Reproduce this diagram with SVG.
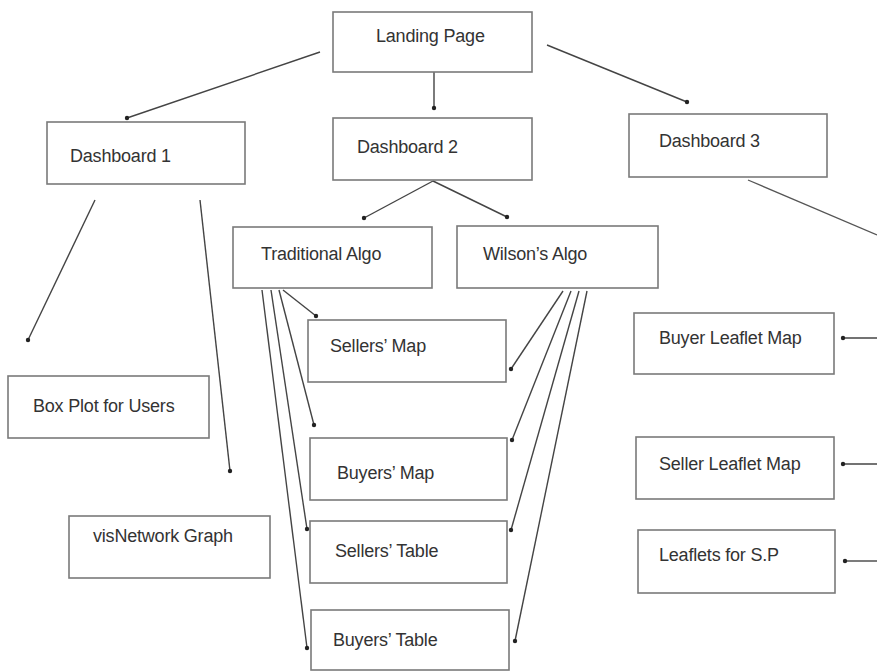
<svg xmlns="http://www.w3.org/2000/svg" width="877" height="671" viewBox="0 0 877 671">
<defs>
<marker id="dot" viewBox="0 0 6 6" refX="3" refY="3" markerWidth="6" markerHeight="6" markerUnits="userSpaceOnUse">
<circle cx="3" cy="3" r="2.2" fill="#222"/>
</marker>
<style>
.box{fill:#fff;stroke:#7a7a7a;stroke-width:1.6}
.lbl{font-family:"Liberation Sans",Arial,sans-serif;font-size:18px;fill:#333;letter-spacing:-0.2px}
.c{fill:none;stroke:#444;stroke-width:1.4;marker-end:url(#dot)}
.cn{fill:none;stroke:#555;stroke-width:1.3}
</style>
</defs>
<rect width="877" height="671" fill="#fff"/>
<g id="connectors">
<line class="c" x1="320" y1="52" x2="127" y2="118"/>
<line class="c" x1="434" y1="68" x2="434" y2="108"/>
<line class="c" x1="547" y1="45" x2="687" y2="102"/>
<line class="c" x1="433" y1="181" x2="364" y2="218"/>
<line class="c" x1="433" y1="181" x2="507" y2="217"/>
<line class="c" x1="95" y1="200" x2="28" y2="340"/>
<line class="c" x1="200" y1="200" x2="230" y2="471"/>
<line class="cn" x1="748" y1="180" x2="877" y2="235"/>
<line class="c" x1="283" y1="290" x2="316" y2="316"/>
<line class="c" x1="279" y1="290" x2="314" y2="425"/>
<line class="c" x1="271" y1="290" x2="307" y2="529"/>
<line class="c" x1="262" y1="290" x2="307" y2="648"/>
<line class="c" x1="563" y1="291" x2="511" y2="369"/>
<line class="c" x1="571" y1="291" x2="512" y2="440"/>
<line class="c" x1="579" y1="291" x2="511" y2="530"/>
<line class="c" x1="587" y1="291" x2="515" y2="641"/>
<line class="c" x1="877" y1="338" x2="843" y2="338"/>
<line class="c" x1="877" y1="464" x2="843" y2="464"/>
<line class="c" x1="877" y1="561" x2="845" y2="561"/>
</g>
<g id="landing"><rect class="box" x="333" y="12" width="199" height="60"/><text class="lbl" x="376" y="42">Landing Page</text></g>
<g id="dash1"><rect class="box" x="47" y="122" width="198" height="62"/><text class="lbl" x="70" y="162">Dashboard 1</text></g>
<g id="dash2"><rect class="box" x="333" y="118" width="199" height="62"/><text class="lbl" x="357" y="153">Dashboard 2</text></g>
<g id="dash3"><rect class="box" x="629" y="114" width="198" height="63"/><text class="lbl" x="659" y="147">Dashboard 3</text></g>
<g id="trad"><rect class="box" x="233" y="227" width="199" height="61"/><text class="lbl" x="261" y="260">Traditional Algo</text></g>
<g id="wilson"><rect class="box" x="457" y="226" width="201" height="62"/><text class="lbl" x="483" y="260">Wilson’s Algo</text></g>
<g id="sellersmap"><rect class="box" x="308" y="320" width="198" height="62"/><text class="lbl" x="330" y="352">Sellers’ Map</text></g>
<g id="buyerleaflet"><rect class="box" x="634" y="313" width="200" height="61"/><text class="lbl" x="659" y="344">Buyer Leaflet Map</text></g>
<g id="boxplot"><rect class="box" x="8" y="376" width="201" height="62"/><text class="lbl" x="33" y="412">Box Plot for Users</text></g>
<g id="buyersmap"><rect class="box" x="310" y="438" width="197" height="62"/><text class="lbl" x="337" y="479">Buyers’ Map</text></g>
<g id="sellerleaflet"><rect class="box" x="636" y="437" width="198" height="62"/><text class="lbl" x="659" y="470">Seller Leaflet Map</text></g>
<g id="visnet"><rect class="box" x="69" y="516" width="201" height="62"/><text class="lbl" x="93" y="542">visNetwork Graph</text></g>
<g id="sellerstable"><rect class="box" x="310" y="521" width="197" height="62"/><text class="lbl" x="335" y="557">Sellers’ Table</text></g>
<g id="leafletssp"><rect class="box" x="638" y="530" width="197" height="63"/><text class="lbl" x="659" y="561">Leaflets for S.P</text></g>
<g id="buyerstable"><rect class="box" x="311" y="610" width="198" height="60"/><text class="lbl" x="333" y="646">Buyers’ Table</text></g>
</svg>
